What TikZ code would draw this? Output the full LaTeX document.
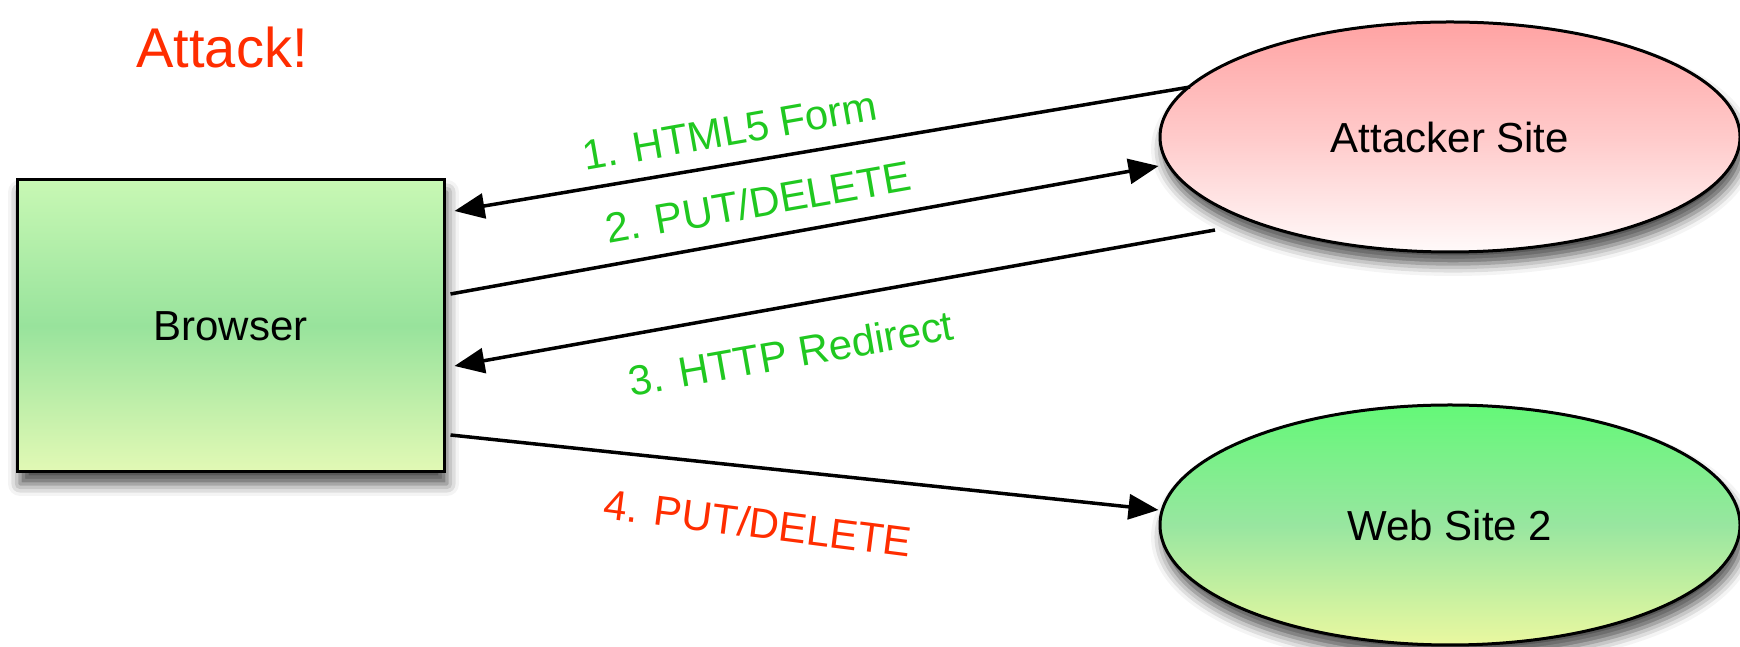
\documentclass[tikz,border=0pt]{standalone}
\usepackage{fontspec}
\setmainfont{Liberation Sans}
\usetikzlibrary{arrows.meta,shapes.geometric,shadows.blur}

\definecolor{lblgreen}{RGB}{32,200,32}
\definecolor{lblred}{RGB}{255,45,0}
\definecolor{brtop}{RGB}{200,248,180}
\definecolor{brmid}{RGB}{152,227,156}
\definecolor{brbot}{RGB}{226,249,181}
\definecolor{attop}{RGB}{255,163,163}
\definecolor{atmid}{RGB}{255,202,202}
\definecolor{atbot}{RGB}{255,250,250}
\definecolor{wstop}{RGB}{100,248,120}
\definecolor{wsmid}{RGB}{152,230,160}
\definecolor{wsbot}{RGB}{234,248,160}

\begin{document}
\begin{tikzpicture}[x=1pt,y=1pt,
  every node/.style={font=\fontsize{42}{50}\selectfont},
  shade/.style={blur shadow={shadow xshift=3pt,shadow yshift=-12pt,shadow blur radius=12pt,shadow opacity=70}},
  browserbox/.style={rectangle,draw=black,line width=3pt,inner sep=0pt,
    minimum width=427pt,minimum height=292pt,
    top color=brtop,bottom color=brbot,middle color=brmid,shade},
  site/.style={ellipse,draw=black,line width=3pt,inner sep=0pt,
    minimum width=580pt,shade},
  link/.style={line width=3.5pt,-{Triangle[length=30pt,width=25pt]}},
  greenlbl/.style={text=lblgreen,rotate=10},
  redlbl/.style={text=lblred}
]
\useasboundingbox (0,0) rectangle (1740,647);

% nodes
\node[browserbox] (br) at (230.5,321) {Browser};
\node[site,minimum height=230pt,top color=attop,bottom color=atbot,middle color=atmid]
  (att) at (1450,510) {Attacker Site};
\node[site,minimum height=240pt,top color=wstop,bottom color=wsbot,middle color=wsmid]
  (web) at (1450,122) {Web Site 2};

% free ends of the connectors
\coordinate (a1s) at ([shift={(-260pt,50pt)}]att.center);
\coordinate (a3s) at ([shift={(-235pt,-93pt)}]att.center);

% connectors
\draw[link] (a1s) -- ([shift={(9pt,115pt)}]br.east);
\draw[link] ([shift={(5pt,32pt)}]br.east) -- ([yshift=-29pt]att.west);
\draw[link] (a3s) -- ([shift={(9pt,-40pt)}]br.east);
\draw[link] ([shift={(5pt,-109pt)}]br.east) -- ([yshift=15pt]web.west);

% labels
\node[redlbl,font=\fontsize{56}{64}\selectfont] (title) at (222,600) {Attack!};
\node[greenlbl] (l1) at (730,516) {1. HTML5 Form};
\node[greenlbl] (l2) at (758,445) {2. PUT/DELETE};
\node[greenlbl] (l3) at (791,294) {3. HTTP Redirect};
\node[redlbl,rotate=-7.3] (l4) at (758,124) {4. PUT/DELETE};
\end{tikzpicture}
\end{document}
